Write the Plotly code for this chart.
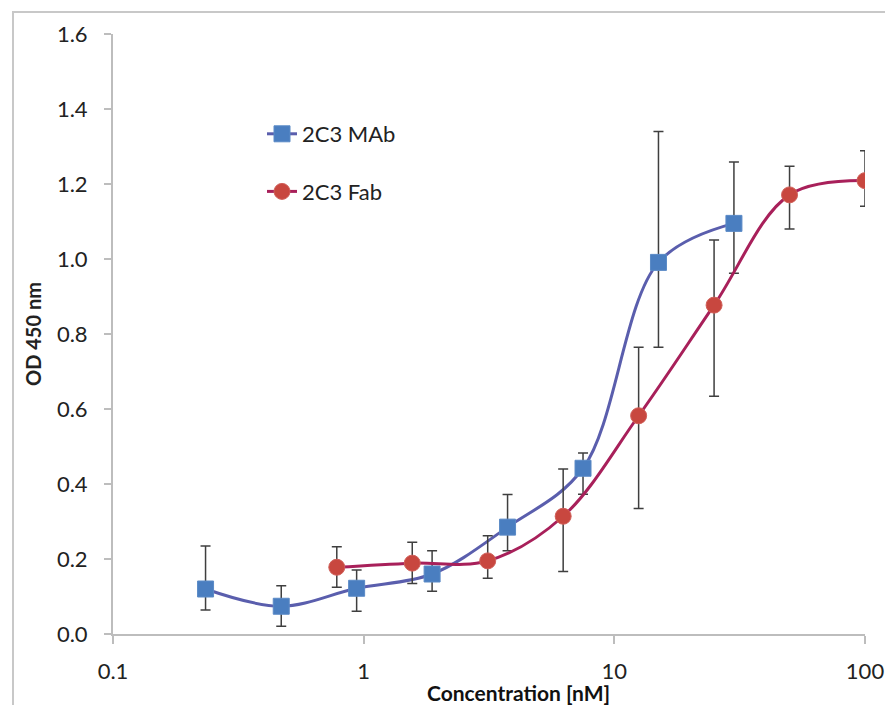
import plotly.graph_objects as go

# ---- data ----
mab_conc = [0.234, 0.469, 0.9375, 1.875, 3.75, 7.5, 15, 30]
mab_od = [0.120, 0.074, 0.122, 0.160, 0.285, 0.442, 0.991, 1.095]
mab_upper = [0.235, 0.129, 0.171, 0.222, 0.372, 0.483, 1.340, 1.259]
mab_lower = [0.064, 0.021, 0.061, 0.114, 0.222, 0.373, 0.765, 0.962]

fab_conc = [0.78125, 1.5625, 3.125, 6.25, 12.5, 25, 50, 100]
fab_od = [0.178, 0.189, 0.195, 0.314, 0.582, 0.877, 1.171, 1.209]
fab_upper = [0.233, 0.245, 0.262, 0.440, 0.765, 1.051, 1.247, 1.289]
fab_lower = [0.125, 0.135, 0.149, 0.167, 0.335, 0.634, 1.080, 1.141]

y_ticks = [0.0, 0.2, 0.4, 0.6, 0.8, 1.0, 1.2, 1.4, 1.6]
x_ticks = [0.1, 1, 10, 100]
x_ticktext = ["0.1", "1", "10", "100"]

FONT = "Lato, 'Open Sans', sans-serif"
ERR_COLOR = "#3f3f3f"


def err(od, up, lo):
    return ([u - v for u, v in zip(up, od)], [v - l for v, l in zip(od, lo)])


mab_p, mab_m = err(mab_od, mab_upper, mab_lower)
fab_p, fab_m = err(fab_od, fab_upper, fab_lower)

fig = go.Figure()
fig.add_trace(go.Scatter(
    x=mab_conc, y=mab_od, name="2C3 MAb", mode="lines+markers",
    line=dict(color="#5A5EAD", width=3, shape="spline", smoothing=1.0),
    marker=dict(symbol="square", size=16, color="#4A7EC0",
                line=dict(color="#5B8AC6", width=1)),
    error_y=dict(type="data", array=mab_p, arrayminus=mab_m, symmetric=False,
                 color=ERR_COLOR, thickness=1.5, width=5),
    legendgroup="a",
))
fig.add_trace(go.Scatter(
    x=fab_conc, y=fab_od, name="2C3 Fab", mode="lines+markers",
    line=dict(color="#A8205A", width=3, shape="spline", smoothing=1.0),
    marker=dict(symbol="circle", size=16, color="#C8473F",
                line=dict(color="#D0605A", width=1)),
    error_y=dict(type="data", array=fab_p, arrayminus=fab_m, symmetric=False,
                 color=ERR_COLOR, thickness=1.5, width=5),
    legendgroup="b",
))

W, H = 885, 705
L, R, T, B = 113, 20, 34, 71
pw, ph = W - L - R, H - T - B


def px_x(p):  # screen px -> paper x
    return (p - L) / pw


def px_y(p):  # screen px -> paper y
    return (H - B - p) / ph


fig.update_layout(
    width=W, height=H,
    margin=dict(l=L, r=R, t=T, b=B),
    paper_bgcolor="white", plot_bgcolor="white",
    font=dict(family=FONT, size=22, color="#222222"),
    showlegend=True,
    legend=dict(x=px_x(262), y=px_y(113), xanchor="left", yanchor="top",
                traceorder="grouped", tracegroupgap=26,
                bgcolor="rgba(0,0,0,0)", font=dict(size=22, color="#222222"),
                itemwidth=30),
    xaxis=dict(type="log", range=[-1, 2], tickvals=x_ticks, ticktext=x_ticktext,
               showline=True, linecolor="#BDBDBD", linewidth=2,
               ticks="outside", ticklen=8, tickcolor="#BDBDBD", tickwidth=2,
               showgrid=False, zeroline=False, ticklabelstandoff=9,
               tickfont=dict(size=22), automargin=False),
    yaxis=dict(range=[0, 1.6], tickvals=y_ticks, tickformat=".1f",
               showline=True, linecolor="#BDBDBD", linewidth=2,
               ticks="outside", ticklen=7, tickcolor="#BDBDBD", tickwidth=2,
               showgrid=False, zeroline=False, ticklabelstandoff=12,
               tickfont=dict(size=22), automargin=False,
               title=dict(text="<b>OD 450 nm</b>", font=dict(size=20), standoff=10)),
    shapes=[dict(type="rect", xref="paper", yref="paper",
                 x0=px_x(13), x1=px_x(895), y0=px_y(715), y1=px_y(12),
                 line=dict(color="#C8C8C8", width=2), layer="below")],
    annotations=[dict(text="<b>Concentration [nM]</b>", xref="paper", yref="paper",
                      x=px_x(518), y=px_y(692), xanchor="center", yanchor="middle",
                      showarrow=False, font=dict(size=21, color="#111111"))],
)

fig.write_html(
    "out.html",
    config={"displayModeBar": False},
    post_script="document.body.style.margin='0';document.body.style.overflow='hidden';",
)
